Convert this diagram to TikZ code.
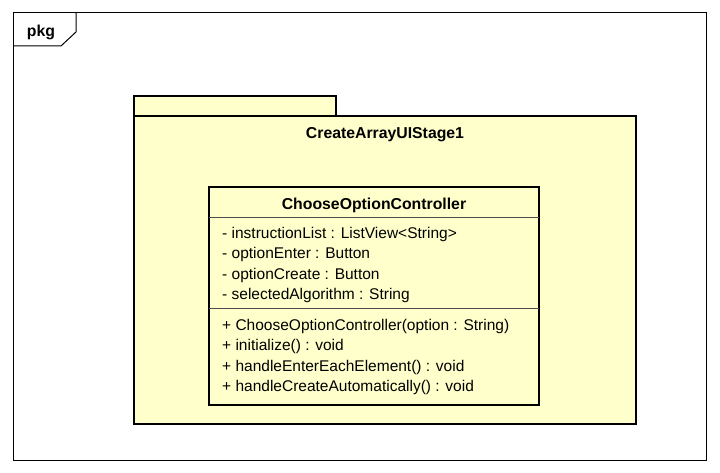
\documentclass[tikz,border=0pt]{standalone}
\usepackage{fontspec}
\setmainfont{Liberation Sans}
\usetikzlibrary{positioning, calc}
\definecolor{pkgfill}{HTML}{FFFFCC}

\begin{document}
\begin{tikzpicture}[
    x=1pt, y=-1pt,
    % Define line styles
    frameline/.style={draw, line width=1pt},
    pkgline/.style={draw, line width=2pt, fill=pkgfill},
    sepline/.style={draw, line width=0.8pt, black!70},
    % Define text styles
    title/.style={font=\fontsize{15.8}{18}\selectfont\bfseries, inner sep=0pt},
    member/.style={font=\fontsize{15.5}{18}\selectfont, anchor=west, inner sep=0pt,
                   text height=11pt, text depth=4pt},
]
\useasboundingbox (0,0) rectangle (720,473);

% Drawing the outer diagram frame with its pkg tag
\draw[frameline] (13,13) rectangle (706,460);
\draw[frameline] (13,46) -- (61,46) -- (76,32) -- (76,13);
\node[title] (pkg) at (41,32) {pkg};

% Drawing the package with its tab
\draw[pkgline] (134,96) rectangle (336,116);
\draw[pkgline] (134,116) rectangle (636,424);
\node[title] (Stage) at (385,135) {CreateArrayUIStage1};

% Drawing the class box
\draw[pkgline] (209,187) rectangle (539,405);
\draw[sepline] (209,217) -- (539,217);
\draw[sepline] (209,308) -- (539,308);
\node[title] (Controller) at (374,205) {ChooseOptionController};

% Adding the attributes
\node[member] (attr1) at (222,235) {- instructionList : ListView<String>};
\node[member, below=5pt of attr1.south west, anchor=north west] (attr2) {- optionEnter : Button};
\node[member, below=5pt of attr2.south west, anchor=north west] (attr3) {- optionCreate : Button};
\node[member, below=5pt of attr3.south west, anchor=north west] (attr4) {- selectedAlgorithm : String};

% Adding the operations
\node[member] (meth1) at (222,327) {+ ChooseOptionController(option : String)};
\node[member, below=5pt of meth1.south west, anchor=north west] (meth2) {+ initialize() : void};
\node[member, below=5pt of meth2.south west, anchor=north west] (meth3) {+ handleEnterEachElement() : void};
\node[member, below=5pt of meth3.south west, anchor=north west] (meth4) {+ handleCreateAutomatically() : void};

\end{tikzpicture}
\end{document}
